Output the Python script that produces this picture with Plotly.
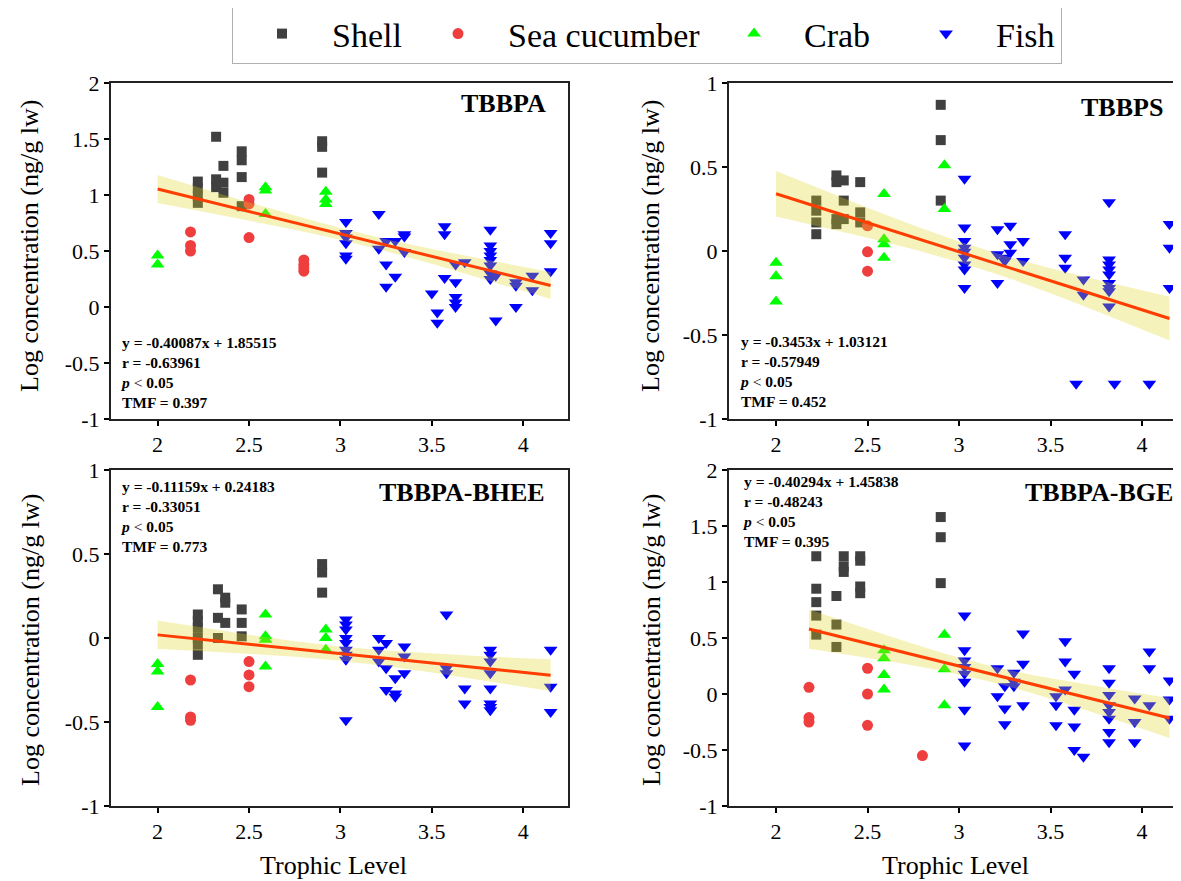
import plotly.graph_objects as go

# ---------------- DATA ----------------
species = ["Shell", "Sea cucumber", "Crab", "Fish"]
panel_titles = ["TBBPA", "TBBPS", "TBBPA-BHEE", "TBBPA-BGE"]

x_tickvals = [2, 2.5, 3, 3.5, 4]
x_ticktext = ["2", "2.5", "3", "3.5", "4"]
y_tickvals_a = [-1, -0.5, 0, 0.5, 1, 1.5, 2]
y_ticktext_a = ["-1", "-0.5", "0", "0.5", "1", "1.5", "2"]
y_tickvals_b = [-1, -0.5, 0, 0.5, 1]
y_ticktext_b = ["-1", "-0.5", "0", "0.5", "1"]

# --- TBBPA ---
tbbpa_shell_x = [2.22, 2.22, 2.22, 2.22, 2.32, 2.32, 2.32, 2.36, 2.36, 2.36, 2.46, 2.46, 2.46, 2.46, 2.9, 2.9, 2.9]
tbbpa_shell_y = [1.12, 1.06, 0.99, 0.93, 1.52, 1.14, 1.07, 1.26, 1.11, 1.02, 1.39, 1.31, 1.16, 0.90, 1.48, 1.43, 1.20]
tbbpa_sea_x = [2.18, 2.18, 2.18, 2.5, 2.5, 2.5, 2.8, 2.8, 2.8, 2.8]
tbbpa_sea_y = [0.67, 0.55, 0.50, 0.96, 0.92, 0.62, 0.42, 0.38, 0.35, 0.32]
tbbpa_crab_x = [2.0, 2.0, 2.59, 2.59, 2.59, 2.92, 2.92, 2.92]
tbbpa_crab_y = [0.46, 0.38, 1.07, 1.04, 0.83, 1.03, 0.96, 0.92]
tbbpa_fish_x = [3.03, 3.03, 3.03, 3.03, 3.03, 3.03, 3.21, 3.21, 3.25, 3.25, 3.25, 3.3, 3.3,
                3.35, 3.35, 3.35, 3.5, 3.53, 3.53, 3.57, 3.57, 3.57, 3.63, 3.63, 3.63, 3.63, 3.63,
                3.68, 3.82, 3.82, 3.82, 3.82, 3.82, 3.82, 3.82, 3.82, 3.85, 3.85, 3.96, 3.96, 3.96,
                4.05, 4.05, 4.15, 4.15, 4.15]
tbbpa_fish_y = [0.76, 0.66, 0.62, 0.57, 0.46, 0.43, 0.83, 0.52, 0.59, 0.38, 0.18, 0.59, 0.27,
                0.65, 0.63, 0.49, 0.12, -0.05, -0.14, 0.72, 0.65, 0.26, 0.38, 0.22, 0.09, 0.04, 0.0,
                0.40, 0.69, 0.55, 0.50, 0.46, 0.42, 0.37, 0.30, 0.25, 0.28, -0.12, 0.22, 0.19, 0.0,
                0.28, 0.15, 0.66, 0.57, 0.32]

# --- TBBPS ---
tbbps_shell_x = [2.22, 2.22, 2.22, 2.22, 2.33, 2.33, 2.33, 2.33, 2.37, 2.37, 2.37, 2.46, 2.46, 2.46, 2.9, 2.9, 2.9]
tbbps_shell_y = [0.30, 0.24, 0.17, 0.10, 0.45, 0.41, 0.19, 0.16, 0.42, 0.30, 0.19, 0.41, 0.23, 0.17, 0.87, 0.66, 0.30]
tbbps_sea_x = [2.5, 2.5, 2.5]
tbbps_sea_y = [0.15, -0.005, -0.12]
tbbps_crab_x = [2.0, 2.0, 2.0, 2.59, 2.59, 2.59, 2.59, 2.92, 2.92]
tbbps_crab_y = [-0.07, -0.15, -0.30, 0.34, 0.07, 0.04, -0.04, 0.51, 0.25]
tbbps_fish_x = [3.03, 3.03, 3.03, 3.03, 3.03, 3.03, 3.03, 3.03, 3.03, 3.21, 3.21, 3.21, 3.25, 3.25,
                3.28, 3.28, 3.28, 3.35, 3.35, 3.58, 3.58, 3.58, 3.64, 3.68, 3.68,
                3.82, 3.82, 3.82, 3.82, 3.82, 3.82, 3.82, 3.82, 3.82, 3.85, 4.04, 4.15, 4.15, 4.15]
tbbps_fish_y = [0.43, 0.14, 0.06, 0.02, -0.005, -0.04, -0.08, -0.11, -0.22, 0.13, -0.02, -0.19, -0.04, -0.06,
                0.15, 0.04, -0.01, 0.06, -0.06, 0.10, -0.04, -0.10, -0.79, -0.17, -0.26,
                0.29, -0.05, -0.08, -0.11, -0.14, -0.19, -0.22, -0.24, -0.33, -0.79, -0.79, 0.16, 0.02, -0.22]

# --- TBBPA-BHEE ---
bhee_shell_x = [2.22, 2.22, 2.22, 2.22, 2.22, 2.22, 2.33, 2.33, 2.33, 2.37, 2.37, 2.37, 2.46, 2.46, 2.46, 2.9, 2.9, 2.9]
bhee_shell_y = [0.14, 0.10, 0.06, 0.0, -0.04, -0.10, 0.29, 0.12, 0.0, 0.24, 0.21, 0.09, 0.17, 0.09, 0.01, 0.44, 0.39, 0.27]
bhee_sea_x = [2.18, 2.18, 2.18, 2.5, 2.5, 2.5]
bhee_sea_y = [-0.25, -0.47, -0.49, -0.14, -0.22, -0.29]
bhee_crab_x = [2.0, 2.0, 2.0, 2.59, 2.59, 2.59, 2.59, 2.92, 2.92, 2.92]
bhee_crab_y = [-0.155, -0.20, -0.41, 0.14, 0.01, -0.01, -0.17, 0.05, 0.0, -0.07]
bhee_fish_x = [3.03, 3.03, 3.03, 3.03, 3.03, 3.03, 3.03, 3.03, 3.03, 3.21, 3.21, 3.21, 3.25, 3.25, 3.25,
               3.3, 3.3, 3.3, 3.35, 3.35, 3.35, 3.58, 3.58, 3.58, 3.68, 3.68,
               3.82, 3.82, 3.82, 3.82, 3.82, 3.82, 3.82, 3.82, 4.15, 4.15, 4.15]
bhee_fish_y = [0.11, 0.08, 0.05, 0.0, -0.03, -0.07, -0.10, -0.13, -0.49, 0.0, -0.07, -0.14, -0.03, -0.18, -0.31,
               -0.24, -0.35, -0.33, -0.05, -0.11, -0.21, 0.14, -0.18, -0.21, -0.30, -0.39,
               -0.07, -0.10, -0.14, -0.21, -0.30, -0.39, -0.41, -0.43, -0.07, -0.29, -0.44]

# --- TBBPA-BGE ---
bge_shell_x = [2.22, 2.22, 2.22, 2.22, 2.22, 2.33, 2.33, 2.33, 2.37, 2.37, 2.37, 2.46, 2.46, 2.46, 2.46, 2.9, 2.9, 2.9]
bge_shell_y = [1.23, 0.94, 0.82, 0.70, 0.53, 0.875, 0.62, 0.42, 1.23, 1.14, 1.09, 1.23, 1.19, 0.96, 0.90, 1.58, 1.40, 0.99]
bge_sea_x = [2.18, 2.18, 2.18, 2.5, 2.5, 2.5, 2.8]
bge_sea_y = [0.06, -0.21, -0.25, 0.23, 0.0, -0.28, -0.55]
bge_crab_x = [2.59, 2.59, 2.59, 2.59, 2.92, 2.92, 2.92]
bge_crab_y = [0.39, 0.32, 0.17, 0.04, 0.53, 0.22, -0.10]
bge_fish_x = [3.03, 3.03, 3.03, 3.03, 3.03, 3.03, 3.03, 3.03, 3.21, 3.21, 3.25, 3.25, 3.25, 3.3, 3.3, 3.3,
              3.35, 3.35, 3.35, 3.53, 3.53, 3.53, 3.58, 3.58, 3.58, 3.63, 3.63, 3.63, 3.63, 3.68,
              3.82, 3.82, 3.82, 3.82, 3.82, 3.82, 3.82, 3.82, 3.96, 3.96, 3.96, 4.04, 4.04, 4.04,
              4.15, 4.15, 4.15]
bge_fish_y = [0.70, 0.39, 0.30, 0.24, 0.18, 0.11, -0.14, -0.46, 0.23, -0.02, 0.07, -0.13, -0.27, 0.19, 0.11, 0.07,
              0.54, 0.27, -0.10, -0.02, -0.10, -0.28, 0.47, 0.29, 0.04, 0.18, -0.14, -0.29, -0.50, -0.56,
              0.23, 0.10, -0.01, -0.10, -0.16, -0.22, -0.34, -0.43, -0.04, -0.25, -0.43, 0.38, 0.23, -0.10,
              0.12, -0.05, -0.22]

# regression fits (slope, intercept, x-extent) as printed on the chart
fit_slopes = [-0.40087, -0.3453, -0.11159, -0.40294]
fit_intercepts = [1.85515, 1.03121, 0.24183, 1.45838]
fit_x_start = [2.0, 2.0, 2.0, 2.18]
fit_x_end = [4.15, 4.15, 4.15, 4.15]
fit_r = ["-0.63961", "-0.57949", "-0.33051", "-0.48243"]
fit_tmf = ["0.397", "0.452", "0.773", "0.395"]
fit_eq = ["y = -0.40087x + 1.85515", "y = -0.3453x + 1.03121",
          "y = -0.11159x + 0.24183", "y = -0.40294x + 1.45838"]

# confidence bands
band1_x = [2.0, 2.25, 2.5, 2.75, 3.0, 3.25, 3.5, 3.75, 4.0, 4.15]
band1_up = [1.178, 1.055, 0.934, 0.816, 0.706, 0.606, 0.518, 0.437, 0.358, 0.312]
band1_lo = [0.928, 0.851, 0.772, 0.690, 0.600, 0.498, 0.386, 0.267, 0.146, 0.072]
band2_x = [2.0, 2.25, 2.5, 2.75, 3.0, 3.25, 3.5, 3.75, 4.0, 4.15]
band2_up = [0.476, 0.365, 0.257, 0.153, 0.056, -0.029, -0.103, -0.170, -0.234, -0.272]
band2_lo = [0.206, 0.143, 0.079, 0.010, -0.066, -0.153, -0.252, -0.357, -0.466, -0.532]
band3_x = [2.0, 2.25, 2.5, 2.75, 3.0, 3.25, 3.5, 3.75, 4.0, 4.15]
band3_up = [0.104, 0.060, 0.019, -0.019, -0.051, -0.075, -0.093, -0.107, -0.120, -0.126]
band3_lo = [-0.066, -0.079, -0.093, -0.111, -0.135, -0.167, -0.205, -0.246, -0.290, -0.316]
band4_x = [2.18, 2.4, 2.65, 2.9, 3.15, 3.4, 3.65, 3.9, 4.15]
band4_up = [0.755, 0.633, 0.499, 0.371, 0.259, 0.169, 0.096, 0.029, -0.035]
band4_lo = [0.405, 0.349, 0.283, 0.209, 0.119, 0.007, -0.120, -0.255, -0.393]

# ---------------- STYLE ----------------
PAGE_OFF = 8                      # default body margin of the html page
W, H = 1181 - PAGE_OFF, 881 - PAGE_OFF
SERIF = "Liberation Serif, Times New Roman, serif"
colors = ["#404040", "#ef3e3e", "#00ff00", "#0000ff"]
symbols = ["square", "circle", "triangle-up", "triangle-down"]
sizes = [10, 11, 12, 12]
legend_widths = [71, 191, 87, 60]
band_color = "rgba(225,212,30,0.30)"
line_color = "#ff3d00"

def px_x(p):
    return (p - PAGE_OFF) / W

def px_y(p):
    return 1 - (p - PAGE_OFF) / H

# panel geometry (pixels in the final screenshot)
panels = [
    dict(left=111, right=568, top=83, bottom=419, xr=[1.745, 4.245], yv=y_tickvals_a, yt=y_ticktext_a, yr=[-1, 2], mirror_y=True),
    dict(left=729, right=1181, top=83, bottom=419, xr=[1.743, 4.213], yv=y_tickvals_a[:5], yt=y_ticktext_a[:5], yr=[-1, 1], mirror_y=False),
    dict(left=111, right=568, top=470, bottom=806, xr=[1.745, 4.245], yv=y_tickvals_b, yt=y_ticktext_b, yr=[-1, 1], mirror_y=True),
    dict(left=729, right=1181, top=470, bottom=806, xr=[1.743, 4.213], yv=y_tickvals_a, yt=y_ticktext_a, yr=[-1, 2], mirror_y=False),
]

series = [
    [(tbbpa_shell_x, tbbpa_shell_y), (tbbpa_sea_x, tbbpa_sea_y), (tbbpa_crab_x, tbbpa_crab_y), (tbbpa_fish_x, tbbpa_fish_y)],
    [(tbbps_shell_x, tbbps_shell_y), (tbbps_sea_x, tbbps_sea_y), (tbbps_crab_x, tbbps_crab_y), (tbbps_fish_x, tbbps_fish_y)],
    [(bhee_shell_x, bhee_shell_y), (bhee_sea_x, bhee_sea_y), (bhee_crab_x, bhee_crab_y), (bhee_fish_x, bhee_fish_y)],
    [(bge_shell_x, bge_shell_y), (bge_sea_x, bge_sea_y), (bge_crab_x, bge_crab_y), (bge_fish_x, bge_fish_y)],
]
bands = [(band1_x, band1_up, band1_lo), (band2_x, band2_up, band2_lo),
         (band3_x, band3_up, band3_lo), (band4_x, band4_up, band4_lo)]

fig = go.Figure()

for i in range(4):
    xa = "x" if i == 0 else f"x{i+1}"
    ya = "y" if i == 0 else f"y{i+1}"
    for j, name in enumerate(species):
        sx, sy = series[i][j]
        fig.add_trace(go.Scatter(
            x=sx, y=sy, mode="markers", name=name, legendgroup=name,
            showlegend=(i == 0), legendwidth=legend_widths[j],
            marker=dict(symbol=symbols[j], color=colors[j], size=sizes[j], line=dict(width=0)),
            xaxis=xa, yaxis=ya, hoverinfo="skip"))
    bx, bu, bl = bands[i]
    fig.add_trace(go.Scatter(
        x=list(bx) + list(bx)[::-1], y=list(bu) + list(bl)[::-1],
        fill="toself", fillcolor=band_color, line=dict(width=0), mode="lines",
        showlegend=False, xaxis=xa, yaxis=ya, hoverinfo="skip"))
    lx = [fit_x_start[i], fit_x_end[i]]
    ly = [fit_slopes[i] * v + fit_intercepts[i] for v in lx]
    fig.add_trace(go.Scatter(
        x=lx, y=ly, mode="lines", line=dict(color=line_color, width=3),
        showlegend=False, xaxis=xa, yaxis=ya, hoverinfo="skip"))

layout = dict(
    width=W, height=H,
    margin=dict(l=0, r=0, t=0, b=0, autoexpand=False),
    paper_bgcolor="white", plot_bgcolor="white",
    font=dict(family=SERIF, color="black"),
    showlegend=True,
    legend=dict(orientation="h", x=px_x(232), y=px_y(4), xanchor="left", yanchor="top",
                font=dict(family=SERIF, size=34, color="black"),
                bordercolor="#b0b0b0", borderwidth=1, bgcolor="white",
                itemwidth=90, tracegroupgap=0),
)

for i, p in enumerate(panels):
    xk = "xaxis" if i == 0 else f"xaxis{i+1}"
    yk = "yaxis" if i == 0 else f"yaxis{i+1}"
    ya = "y" if i == 0 else f"y{i+1}"
    xa = "x" if i == 0 else f"x{i+1}"
    layout[xk] = dict(domain=[px_x(p["left"]), min(1.0, px_x(p["right"]))], range=p["xr"], anchor=ya,
                      tickvals=x_tickvals, ticktext=x_ticktext, ticks="outside", ticklen=5,
                      tickwidth=1.5, tickcolor="black", showline=True, linecolor="#222222",
                      linewidth=2, mirror=True, showgrid=False, zeroline=False,
                      tickfont=dict(family=SERIF, size=22, color="black"))
    layout[yk] = dict(domain=[px_y(p["bottom"]), px_y(p["top"])], range=p["yr"], anchor=xa,
                      tickvals=p["yv"], ticktext=p["yt"], ticks="outside", ticklen=5,
                      tickwidth=1.5, tickcolor="black", showline=True, linecolor="#222222",
                      linewidth=2, mirror=p["mirror_y"], showgrid=False, zeroline=False,
                      tickfont=dict(family=SERIF, size=22, color="black"))

fig.update_layout(**layout)

annotations = []
# panel titles
title_pos = [(548, 103), (1165, 107), (547, 492), (1175, 492)]
for i, (tx, ty) in enumerate(title_pos):
    annotations.append(dict(text=f"<b>{panel_titles[i]}</b>", x=px_x(tx), y=px_y(ty),
                            xref="paper", yref="paper", xanchor="right", yanchor="middle",
                            showarrow=False, font=dict(family=SERIF, size=26, color="black")))
# stats text blocks
stat_pos = [(118, 332), (737, 331), (118, 476), (740, 471)]
for i, (tx, ty) in enumerate(stat_pos):
    txt = (f"<b>{fit_eq[i]}</b><br><b>r = {fit_r[i]}</b><br><b><i>p</i></b> &lt; <b>0.05</b>"
           f"<br><b>TMF = {fit_tmf[i]}</b>")
    annotations.append(dict(text=txt, x=px_x(tx), y=px_y(ty), xref="paper", yref="paper",
                            xanchor="left", yanchor="top", align="left", showarrow=False,
                            font=dict(family=SERIF, size=15.5, color="black")))
# axis titles
for (cx, cy) in [(30, 246), (651, 246), (30, 640), (651, 640)]:
    annotations.append(dict(text="Log concentration (ng/g lw)", x=px_x(cx), y=px_y(cy),
                            xref="paper", yref="paper", xanchor="center", yanchor="middle",
                            textangle=-90, showarrow=False,
                            font=dict(family=SERIF, size=26, color="black")))
for (cx, cy) in [(333, 865), (955, 865)]:
    annotations.append(dict(text="Trophic Level", x=px_x(cx), y=px_y(cy), xref="paper", yref="paper",
                            xanchor="center", yanchor="middle", showarrow=False,
                            font=dict(family=SERIF, size=26, color="black")))
fig.update_layout(annotations=annotations)

fig.write_html("out.html")
